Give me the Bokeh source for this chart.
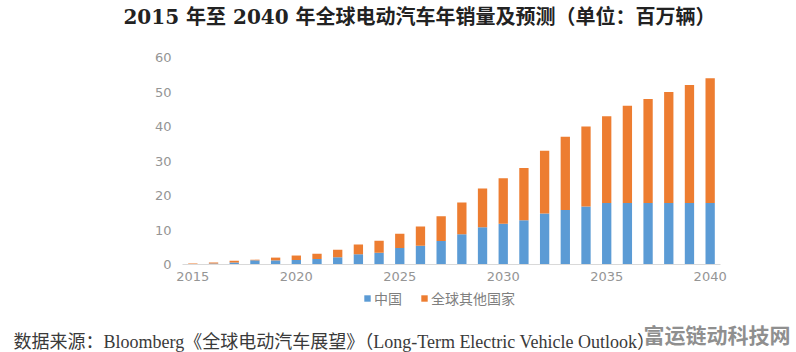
from bokeh.plotting import figure
from bokeh.models import ColumnDataSource, Label, Legend, LegendItem, FixedTicker, Range1d
from bokeh.embed import file_html
from bokeh.resources import INLINE

# ---- data (millions of vehicles) ----
years = list(range(2015, 2041))
china = [0.1, 0.3, 0.6, 1.2, 1.2, 1.3, 1.6, 2.1, 3.0, 3.4, 4.8, 5.4, 6.8,
         8.8, 10.8, 11.8, 12.8, 14.8, 15.8, 16.8, 17.8, 17.8, 17.8, 17.8, 17.8, 17.8]
rest_of_world = [0.2, 0.3, 0.5, 0.2, 0.8, 1.3, 1.5, 2.2, 2.8, 3.5, 4.1, 5.6, 7.2,
                 9.2, 11.2, 13.2, 15.2, 18.2, 21.2, 23.2, 25.2, 28.2, 30.2, 32.2, 34.2, 36.2]
series_labels = ["中国", "全球其他国家"]
x_ticks = [2015, 2020, 2025, 2030, 2035, 2040]
y_ticks = [0, 10, 20, 30, 40, 50, 60]
title_text = "2015 年至 2040 年全球电动汽车年销量及预测（单位：百万辆）"
source_text = "数据来源：Bloomberg《全球电动汽车展望》（Long-Term Electric Vehicle Outlook）"
watermark_text = "富运链动科技网"

# ---- layout (pixels) ----
W, H = 796, 352
FL, FR, FT, FB = 182, 720, 57, 264          # chart area inside the canvas
XA, XB = years[0] - 0.5, years[-1] + 0.5    # category span
YA, YB = y_ticks[0], y_ticks[-1]

xs = (XB - XA) / (FR - FL)   # data units per pixel
ys = (YB - YA) / (FB - FT)

def px_x(px):
    return XA + (px - FL) * xs

def px_y(py):
    return YA + (FB - py) * ys

src = ColumnDataSource(dict(year=years, china=china, rest=rest_of_world))
p = figure(width=W, height=H, output_backend="svg", toolbar_location=None, title=None,
           x_range=Range1d(px_x(0), px_x(W)), y_range=Range1d(px_y(H), px_y(0)),
           min_border=0)
p.outline_line_color = None
p.grid.visible = False
p.background_fill_color = "white"
p.border_fill_color = "white"

BLUE = "#5B9BD5"
ORANGE = "#ED7D31"
rs = p.vbar_stack(["china", "rest"], x="year", width=0.45, source=src,
                  color=[BLUE, ORANGE], line_color=None)

TICK_FONT = "DejaVu Sans"
TICK_COLOR = "#959595"

p.xaxis.fixed_location = YA
p.xaxis.bounds = (XA, XB)
p.xaxis.ticker = FixedTicker(ticks=x_ticks)
p.xaxis.major_tick_line_color = None
p.xaxis.minor_tick_line_color = None
p.xaxis.axis_line_color = "#d9d9d9"
p.xaxis.major_label_text_font = TICK_FONT
p.xaxis.major_label_text_font_size = "13px"
p.xaxis.major_label_text_color = TICK_COLOR
p.xaxis.major_label_standoff = 1

p.yaxis.fixed_location = XA
p.yaxis.bounds = (YA, YB)
p.yaxis.ticker = FixedTicker(ticks=y_ticks)
p.yaxis.major_tick_line_color = None
p.yaxis.minor_tick_line_color = None
p.yaxis.axis_line_color = None
p.yaxis.major_label_text_font = TICK_FONT
p.yaxis.major_label_text_font_size = "13px"
p.yaxis.major_label_text_color = TICK_COLOR
p.yaxis.major_label_standoff = 5

legend = Legend(items=[LegendItem(label=series_labels[i], renderers=[rs[i]]) for i in range(2)],
                orientation="horizontal", location=(363, H - 308),
                padding=0, margin=0, spacing=18, label_standoff=3,
                glyph_width=8, glyph_height=8,
                label_text_font="Noto Sans CJK SC", label_text_font_size="14px",
                label_text_color="#7f7f7f",
                border_line_color=None, background_fill_alpha=0)
p.add_layout(legend, "center")

p.add_layout(Label(x=px_x(419), y=px_y(16), text=title_text,
                   text_align="center", text_baseline="middle",
                   text_font="'DejaVu Serif', 'Noto Sans CJK SC'", text_font_style="bold",
                   text_font_size="20px", text_color="#222222"))

p.add_layout(Label(x=px_x(13), y=px_y(341), text=source_text,
                   text_align="left", text_baseline="middle",
                   text_font="'Liberation Serif', 'Noto Sans CJK SC'",
                   text_font_size="18px", text_color="#3a3a3a"))

p.add_layout(Label(x=px_x(790), y=px_y(333), text=watermark_text,
                   text_align="right", text_baseline="middle",
                   text_font="Noto Sans CJK SC", text_font_style="bold",
                   text_font_size="21px", text_color="#8f8f8f",
                   background_fill_color="white", background_fill_alpha=0.85))

open("out.html", "w").write(file_html(p, INLINE))
